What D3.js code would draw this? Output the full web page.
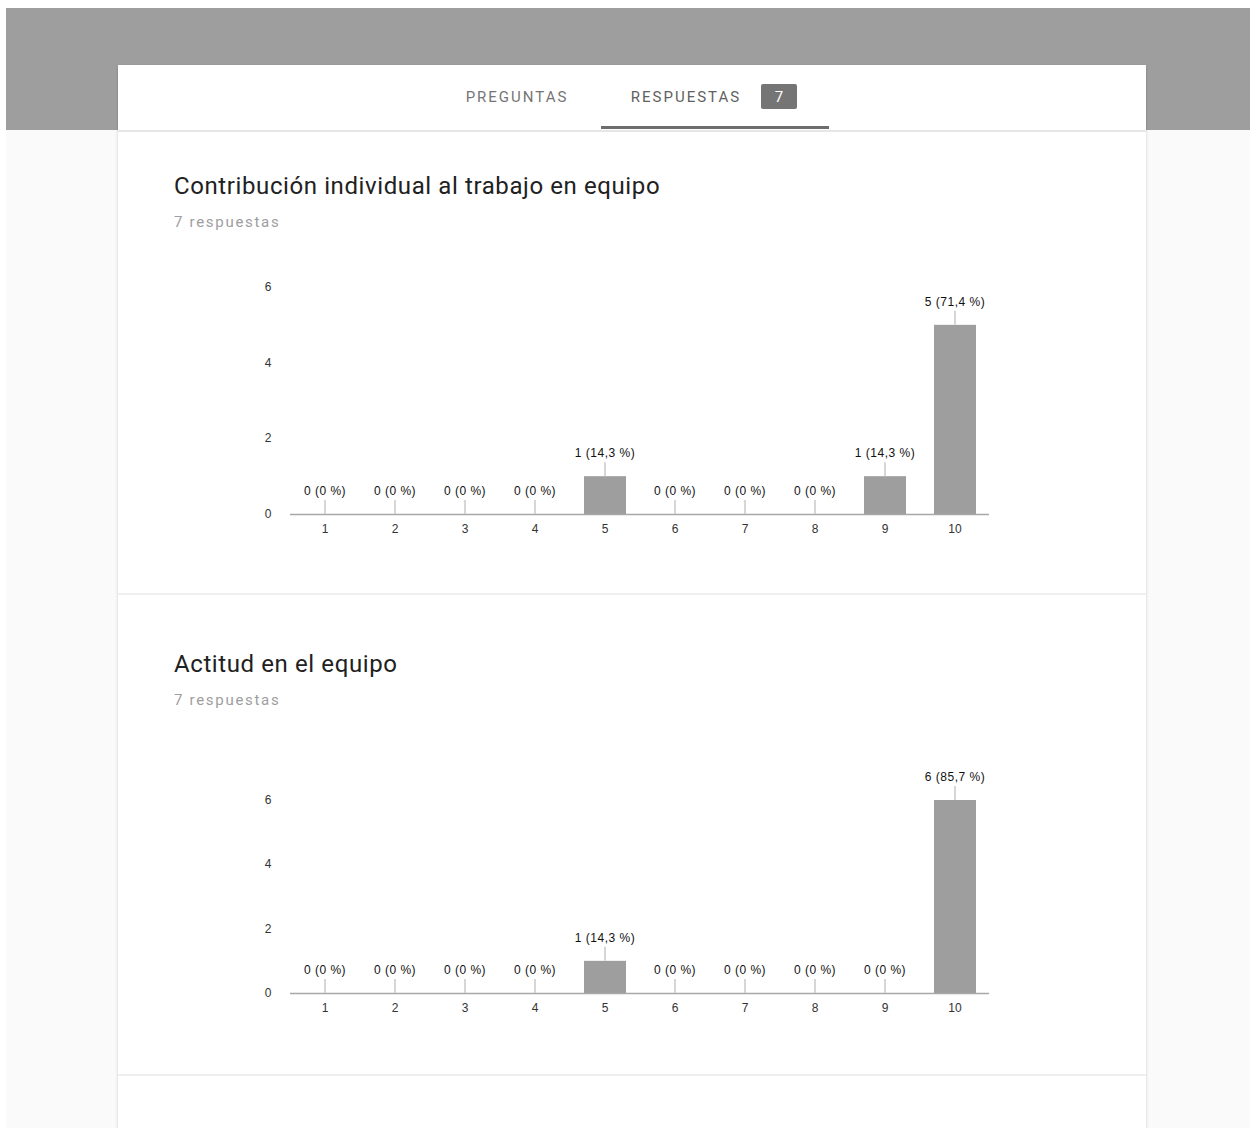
<!DOCTYPE html>
<html><head><meta charset="utf-8">
<script src="https://cdn.jsdelivr.net/npm/d3@7"></script>
<style>body{margin:0;background:#fff;overflow:hidden}svg{display:block}</style>
</head><body>
<script>
const categories = ["1","2","3","4","5","6","7","8","9","10"];
const titles = ["Contribución individual al trabajo en equipo", "Actitud en el equipo"];
const subtitles = ["7 respuestas", "7 respuestas"];
const counts1 = [0,0,0,0,1,0,0,0,1,5];
const counts2 = [0,0,0,0,1,0,0,0,0,6];
const pctLabels1 = ["0 %","0 %","0 %","0 %","14,3 %","0 %","0 %","0 %","14,3 %","71,4 %"];
const pctLabels2 = ["0 %","0 %","0 %","0 %","14,3 %","0 %","0 %","0 %","0 %","85,7 %"];
const yTicks = [0,2,4,6];
const tabs = ["PREGUNTAS","RESPUESTAS"];
const badge = "7";

const W = 1250, H = 1128;
const svg = d3.select("body").append("svg").attr("width", W).attr("height", H);

const defs = svg.append("defs");
const f = defs.append("filter").attr("id","sh").attr("x","-5%").attr("y","-5%").attr("width","110%").attr("height","110%");
f.append("feDropShadow").attr("dx",0).attr("dy",1).attr("stdDeviation",1.5).attr("flood-color","#000").attr("flood-opacity",0.18);

// page background
svg.append("rect").attr("x",6).attr("y",8).attr("width",W-6).attr("height",H-8).attr("fill","#fafafa");
svg.append("rect").attr("x",6).attr("y",8).attr("width",W-6).attr("height",122).attr("fill","#9e9e9e");

// card
svg.append("rect").attr("x",118).attr("y",65).attr("width",1028).attr("height",H).attr("fill","#fff").attr("filter","url(#sh)");
svg.append("rect").attr("x",118).attr("y",130).attr("width",1028).attr("height",2).attr("fill","#e6e6e6");

// tabs
svg.append("text").attr("x",517).attr("y",102).attr("text-anchor","middle").attr("letter-spacing",2)
  .attr("font-family","Roboto").attr("font-size",15).attr("fill","#757575").text(tabs[0]);
svg.append("text").attr("x",686).attr("y",102).attr("text-anchor","middle").attr("letter-spacing",2)
  .attr("font-family","Roboto").attr("font-size",15).attr("fill","#616161").text(tabs[1]);
svg.append("rect").attr("x",761).attr("y",84).attr("width",36).attr("height",25).attr("rx",2).attr("fill","#757575");
svg.append("text").attr("x",779).attr("y",102).attr("text-anchor","middle")
  .attr("font-family","Roboto").attr("font-size",15).attr("fill","#fff").text(badge);
svg.append("rect").attr("x",601).attr("y",126).attr("width",228).attr("height",3).attr("fill","#6d6d6d");

// separators
[593, 1074].forEach(y => svg.append("rect").attr("x",118).attr("y",y).attr("width",1028).attr("height",2).attr("fill","#efefef"));

const x = d3.scaleBand().domain(categories).range([290, 990]).paddingInner(0.4).paddingOuter(0.2);

function drawChart(cfg) {
  const g = svg.append("g");
  g.append("text").attr("x",174).attr("y",cfg.titleY).attr("font-family","Roboto").attr("font-size",24)
    .attr("letter-spacing",0.6).attr("fill","#212121").text(cfg.title);
  g.append("text").attr("x",174).attr("y",cfg.titleY+33).attr("font-family","Roboto").attr("font-size",15)
    .attr("letter-spacing",1.7).attr("fill","#9e9e9e").text(cfg.subtitle);

  const y = d3.scaleLinear().domain([0,6]).range([cfg.y0, cfg.y6]);

  g.selectAll(".yt").data(yTicks).join("text")
    .attr("x",268).attr("y",d=>y(d)+4).attr("text-anchor","middle")
    .attr("font-family","Liberation Sans, Arial").attr("font-size",12).attr("fill","#333").text(d=>d);

  g.selectAll(".bar").data(cfg.counts).join("rect")
    .attr("x",(d,i)=>x(categories[i])).attr("y",d=>y(d))
    .attr("width",x.bandwidth()).attr("height",d=>y(0)-y(d)).attr("fill","#9e9e9e");

  g.append("line").attr("x1",290).attr("x2",989).attr("y1",y(0)+0.5).attr("y2",y(0)+0.5)
    .attr("stroke","#a8a8a8").attr("stroke-width",1.5);

  g.selectAll(".con").data(cfg.counts).join("line")
    .attr("x1",(d,i)=>x(categories[i])+x.bandwidth()/2).attr("x2",(d,i)=>x(categories[i])+x.bandwidth()/2)
    .attr("y1",d=>y(d)-14).attr("y2",d=>y(d))
    .attr("stroke","#c8c8c8").attr("stroke-width",1.5);

  g.selectAll(".lab").data(cfg.counts).join("text")
    .attr("x",(d,i)=>x(categories[i])+x.bandwidth()/2).attr("y",d=>y(d)-19)
    .attr("text-anchor","middle").attr("font-family","Liberation Sans, Arial").attr("font-size",12)
    .attr("letter-spacing",0.5).attr("fill","#111").text((d,i)=>`${d} (${cfg.pct[i]})`);

  g.selectAll(".cat").data(categories).join("text")
    .attr("x",d=>x(d)+x.bandwidth()/2).attr("y",y(0)+19).attr("text-anchor","middle")
    .attr("font-family","Liberation Sans, Arial").attr("font-size",12).attr("fill","#333").text(d=>d);
}

drawChart({title:titles[0], subtitle:subtitles[0], titleY:194, counts:counts1, pct:pctLabels1, y0:514, y6:287});
drawChart({title:titles[1], subtitle:subtitles[1], titleY:672, counts:counts2, pct:pctLabels2, y0:993, y6:800});
</script>
</body></html>
